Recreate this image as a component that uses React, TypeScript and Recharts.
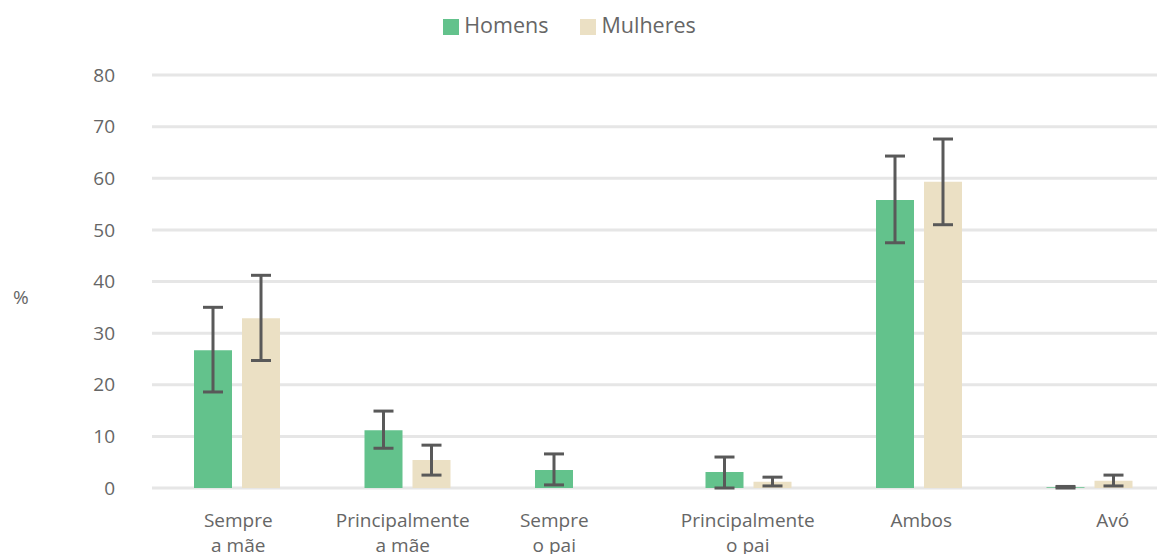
import React from 'react';
import {
  BarChart, Bar, XAxis, YAxis, CartesianGrid, Legend, ErrorBar
} from 'recharts';

const categories = ['Sempre a mãe', 'Principalmente a mãe', 'Sempre o pai', 'Principalmente o pai', 'Ambos', 'Avó'];
const tickLines = [['Sempre', 'a mãe'], ['Principalmente', 'a mãe'], ['Sempre', 'o pai'], ['Principalmente', 'o pai'], ['Ambos'], ['Avó']];
// label nudges as in the original layout
const tickShift = [1, -5, -24, -1, 2, 23];

const homens = [26.7, 11.2, 3.5, 3.1, 55.8, 0.15];
const homensLow = [18.6, 7.7, 0.6, 0, 47.5, 0];
const homensHigh = [35.0, 14.9, 6.6, 6.0, 64.3, 0.3];

const mulheres = [32.9, 5.4, null, 1.2, 59.3, 1.4];
const mulheresLow = [24.7, 2.5, null, 0.4, 51.0, 0.4];
const mulheresHigh = [41.2, 8.3, null, 2.1, 67.6, 2.5];

const yTicks = [0, 10, 20, 30, 40, 50, 60, 70, 80];

const FONT = '"Open Sans", sans-serif';
const TEXT = '#666666';

const data = categories.map((c, i) => ({
  name: c,
  Homens: homens[i],
  hErr: [homens[i] - homensLow[i], homensHigh[i] - homens[i]],
  Mulheres: mulheres[i],
  mErr: mulheres[i] == null ? undefined : [(mulheres[i] as number) - (mulheresLow[i] as number), (mulheresHigh[i] as number) - (mulheres[i] as number)],
}));

const XTick = (props: any) => {
  const { x, y, index } = props;
  const lines = tickLines[index] || [];
  const tx = x + (tickShift[index] || 0);
  return (
    <text x={tx} y={y + 31} textAnchor="middle" fill={TEXT} fontSize={19} fontFamily={FONT}>
      {lines.map((l: string, k: number) => (
        <tspan key={k} x={tx} dy={k === 0 ? 0 : 25}>{l}</tspan>
      ))}
    </text>
  );
};

export default function App() {
  return (
    <BarChart
      width={1157}
      height={546}
      data={data}
      margin={{ top: 38, right: -10, bottom: 0, left: 0 }}
      barCategoryGap="24.8%"
      barGap={10}
      barSize={38}
    >
      <CartesianGrid vertical={false} stroke="#e6e6e6" strokeWidth={3} />
      <XAxis
        dataKey="name"
        axisLine={false}
        tickLine={false}
        height={66}
        interval={0}
        tick={<XTick />}
      />
      <YAxis
        domain={[0, 80]}
        ticks={yTicks}
        width={144}
        axisLine={false}
        tickLine={false}
        tickSize={0}
        tickMargin={37}
        tick={{ fill: TEXT, fontSize: 19, fontFamily: FONT }}
        label={{ value: '%', position: 'insideLeft', dy: 16, fill: TEXT, fontSize: 19, fontFamily: FONT }}
      />
      <Legend
        verticalAlign="top"
        align="center"
        iconType="square"
        iconSize={16}
        wrapperStyle={{ top: 2, fontFamily: FONT, fontSize: 21.5, paddingRight: 12, boxSizing: 'border-box' }}
        formatter={(v: string) => <span style={{ color: TEXT, marginLeft: 1, marginRight: 22 }}>{v}</span>}
      />
      <Bar dataKey="Homens" fill="#63c28c" isAnimationActive={false}>
        <ErrorBar dataKey="hErr" width={10} strokeWidth={3} stroke="#595959" />
      </Bar>
      <Bar dataKey="Mulheres" fill="#ebe0c4" isAnimationActive={false}>
        <ErrorBar dataKey="mErr" width={10} strokeWidth={3} stroke="#595959" />
      </Bar>
    </BarChart>
  );
}
